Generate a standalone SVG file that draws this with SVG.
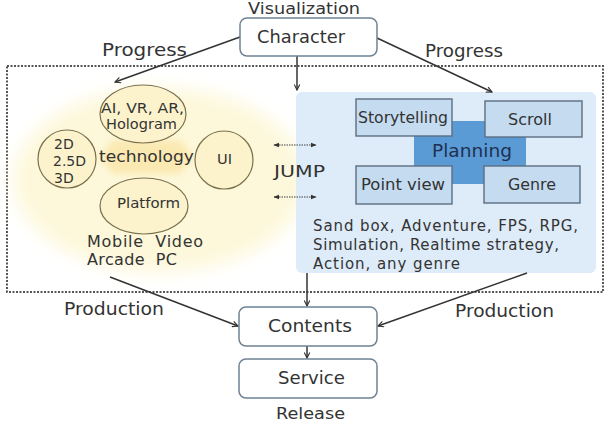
<svg xmlns="http://www.w3.org/2000/svg" width="615" height="425" viewBox="0 0 615 425">
<defs>
<marker id="ah" viewBox="0 0 10 10" refX="9" refY="5" markerWidth="7" markerHeight="7" orient="auto-start-reverse" markerUnits="userSpaceOnUse"><path d="M1,1 L9,5 L1,9" fill="none" stroke="#333" stroke-width="1.6"/></marker>
<marker id="sh" viewBox="0 0 10 10" refX="9" refY="5" markerWidth="6" markerHeight="6" orient="auto-start-reverse" markerUnits="userSpaceOnUse"><path d="M0,1 L10,5 L0,9 Z" fill="#333"/></marker>
<filter id="soft" x="-20%" y="-20%" width="140%" height="140%"><feGaussianBlur stdDeviation="9"/></filter>
<filter id="soft2" x="-20%" y="-30%" width="140%" height="160%"><feGaussianBlur stdDeviation="3"/></filter>
<style>
text{font-family:"DejaVu Sans","Noto Sans",sans-serif;fill:#333;}
.box{fill:#fff;stroke:#6f8294;stroke-width:1.5;}
.circ{fill:#fcf3cd;stroke:#7a7050;stroke-width:1.2;}
.sq{fill:#c5dbf0;stroke:#5c6e80;stroke-width:1.4;}
.ln{fill:none;stroke:#333;stroke-width:1.5;}
.dot{fill:none;stroke:#555;stroke-width:2;stroke-dasharray:2 1.5;}
</style>
</defs>
<rect width="615" height="425" fill="#fff"/>

<g id="frame">
<rect x="7" y="66" width="596" height="226" class="dot"/>
</g>

<g id="technology-area">
<ellipse cx="160" cy="180" rx="146" ry="92" fill="#fdf8da" filter="url(#soft)"/>
<polygon points="99,157 113,140 180,140 194,157 180,174 113,174" fill="#fbe9b2" filter="url(#soft2)"/>
</g>

<g id="planning-area">
<rect x="296" y="92" width="300" height="181" rx="6" fill="#deebf8"/>
</g>

<g id="connectors">
<line x1="240" y1="37" x2="115" y2="82" class="ln" marker-end="url(#ah)"/>
<line x1="377" y1="38" x2="492" y2="92" class="ln" marker-end="url(#ah)"/>
<line x1="297" y1="56" x2="297" y2="90" class="ln" marker-end="url(#ah)"/>
<line x1="110" y1="277" x2="238" y2="326" class="ln" marker-end="url(#ah)"/>
<line x1="527" y1="273" x2="378" y2="326" class="ln" marker-end="url(#ah)"/>
<line x1="307" y1="273" x2="307" y2="306" class="ln" marker-end="url(#ah)"/>
<line x1="307" y1="346" x2="307" y2="358" class="ln" marker-end="url(#ah)"/>
<line x1="274" y1="145" x2="316" y2="145" stroke="#444" stroke-width="1.2" stroke-dasharray="1.5 1" marker-start="url(#sh)" marker-end="url(#sh)"/>
<line x1="274" y1="197" x2="316" y2="197" stroke="#444" stroke-width="1.2" stroke-dasharray="1.5 1" marker-start="url(#sh)" marker-end="url(#sh)"/>
</g>

<g id="character">
<rect x="240" y="18" width="137" height="38" rx="7" class="box"/>
<text x="257" y="43" font-size="17" textLength="88" lengthAdjust="spacingAndGlyphs">Character</text>
<text x="248" y="14" font-size="15" textLength="112" lengthAdjust="spacingAndGlyphs">Visualization</text>
</g>

<g id="progress-left"><text x="102" y="56" font-size="17" textLength="85" lengthAdjust="spacingAndGlyphs">Progress</text></g>
<g id="progress-right"><text x="425" y="57" font-size="17" textLength="78" lengthAdjust="spacingAndGlyphs">Progress</text></g>

<g id="ai">
<ellipse cx="143" cy="114" rx="43" ry="29" class="circ"/>
<text x="101" y="113" font-size="14" textLength="83" lengthAdjust="spacingAndGlyphs">AI, VR, AR,</text>
<text x="106" y="129" font-size="14" textLength="71" lengthAdjust="spacingAndGlyphs">Hologram</text>
</g>
<g id="dims">
<circle cx="67" cy="159" r="29" class="circ"/>
<text x="54" y="149" font-size="14">2D</text>
<text x="53" y="166" font-size="14" textLength="33" lengthAdjust="spacingAndGlyphs">2.5D</text>
<text x="54" y="183" font-size="14">3D</text>
</g>
<g id="technology"><text x="99" y="162" font-size="15" textLength="95" lengthAdjust="spacingAndGlyphs">technology</text></g>
<g id="ui">
<circle cx="224" cy="160" r="29" class="circ"/>
<text x="217" y="164" font-size="14" textLength="15" lengthAdjust="spacingAndGlyphs">UI</text>
</g>
<g id="platform">
<ellipse cx="144" cy="206" rx="44" ry="28" class="circ"/>
<text x="117" y="208" font-size="14" textLength="63" lengthAdjust="spacingAndGlyphs">Platform</text>
</g>
<g id="platform-list">
<text x="87" y="247" font-size="16" textLength="116" lengthAdjust="spacing" xml:space="preserve">Mobile  Video</text>
<text x="87" y="265" font-size="16" textLength="90" lengthAdjust="spacing" xml:space="preserve">Arcade  PC</text>
</g>

<g id="jump"><text x="274" y="177" font-size="16" textLength="51" lengthAdjust="spacingAndGlyphs">JUMP</text></g>

<g id="planning">
<rect x="414" y="121" width="112" height="63" fill="#5b9bd5"/>
<text x="432" y="157" font-size="18" textLength="80" lengthAdjust="spacingAndGlyphs" style="fill:#1f3050">Planning</text>
</g>
<g id="storytelling">
<rect x="356" y="99" width="96" height="37" class="sq"/>
<text x="358" y="123" font-size="15.5" textLength="90" lengthAdjust="spacingAndGlyphs">Storytelling</text>
</g>
<g id="scroll">
<rect x="485" y="101" width="97" height="36" class="sq"/>
<text x="508" y="125" font-size="15.5" textLength="44" lengthAdjust="spacingAndGlyphs">Scroll</text>
</g>
<g id="pointview">
<rect x="356" y="166" width="96" height="38" class="sq"/>
<text x="361" y="190" font-size="15.5" textLength="84" lengthAdjust="spacingAndGlyphs">Point view</text>
</g>
<g id="genre">
<rect x="484" y="166" width="96" height="37" class="sq"/>
<text x="508" y="190" font-size="15.5" textLength="48" lengthAdjust="spacingAndGlyphs">Genre</text>
</g>
<g id="genres">
<text x="313" y="231" font-size="15" textLength="265" lengthAdjust="spacing">Sand box, Adventure, FPS, RPG,</text>
<text x="313" y="250" font-size="15" textLength="246" lengthAdjust="spacing">Simulation, Realtime strategy,</text>
<text x="313" y="269" font-size="15" textLength="147" lengthAdjust="spacing">Action, any genre</text>
</g>

<g id="production-left"><text x="64" y="315" font-size="17" textLength="100" lengthAdjust="spacingAndGlyphs">Production</text></g>
<g id="production-right"><text x="455" y="317" font-size="17" textLength="99" lengthAdjust="spacingAndGlyphs">Production</text></g>

<g id="contents">
<rect x="239" y="307" width="138" height="39" rx="7" class="box"/>
<text x="268" y="332" font-size="17" textLength="84" lengthAdjust="spacingAndGlyphs">Contents</text>
</g>
<g id="service">
<rect x="239" y="359" width="138" height="39" rx="7" class="box"/>
<text x="278" y="384" font-size="17" textLength="67" lengthAdjust="spacingAndGlyphs">Service</text>
<text x="276" y="419" font-size="16" textLength="69" lengthAdjust="spacingAndGlyphs">Release</text>
</g>
</svg>
